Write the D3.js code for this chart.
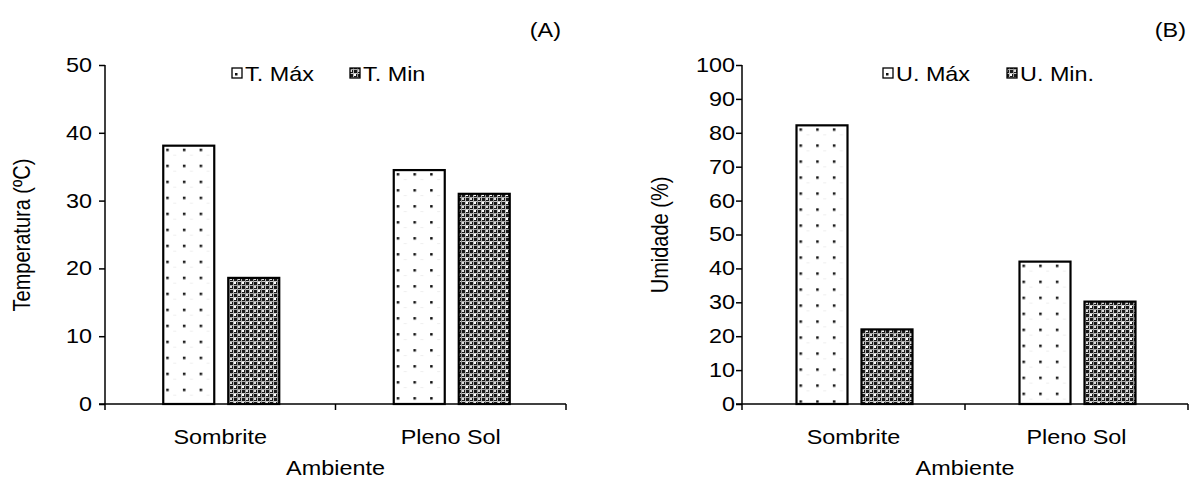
<!DOCTYPE html>
<html><head><meta charset="utf-8">
<script src="https://cdn.jsdelivr.net/npm/d3@7"></script>
<style>body{margin:0;background:#fff}svg{display:block}text{font-family:"Liberation Sans",Arial,sans-serif;fill:#000}</style>
</head><body><div id="c"></div>
<script>
const categories = ["Sombrite", "Pleno Sol"];
const tempSeries = ["T. Máx", "T. Min"];
const tempMax = [38.1, 34.5];
const tempMin = [18.6, 31.0];
const humSeries = ["U. Máx", "U. Min."];
const humMax = [82.2, 42.0];
const humMin = [22.0, 30.2];
const tempTicks = [0, 10, 20, 30, 40, 50];
const humTicks = [0, 10, 20, 30, 40, 50, 60, 70, 80, 90, 100];

const W = 1189, H = 480, SX = 1.17, FS = "20px";
const svg = d3.select("#c").append("svg").attr("width", W).attr("height", H);
const defs = svg.append("defs");

// horizontally stretched text helper
function htext(parent, x, y, str, anchor) {
  return parent.append("text").attr("transform", `translate(${x},${y}) scale(${SX},1)`)
    .attr("text-anchor", anchor || "start").style("font-size", FS).text(str);
}

// dense plaid pattern for "min" series
const pm = defs.append("pattern").attr("id", "pmin").attr("patternUnits", "userSpaceOnUse")
  .attr("width", 8).attr("height", 8);
pm.append("rect").attr("width", 8).attr("height", 8).attr("fill", "#1a1a1a");
pm.append("rect").attr("x", 0).attr("y", 1).attr("width", 8).attr("height", 1).attr("fill", "#ccc");
pm.append("rect").attr("x", 0).attr("y", 5).attr("width", 8).attr("height", 1).attr("fill", "#aaa");
pm.append("rect").attr("x", 1).attr("y", 0).attr("width", 1).attr("height", 8).attr("fill", "#bbb");
pm.append("rect").attr("x", 5).attr("y", 0).attr("width", 1).attr("height", 8).attr("fill", "#999");
pm.append("rect").attr("x", 2).attr("y", 2).attr("width", 2).attr("height", 2).attr("fill", "#fff");
pm.append("rect").attr("x", 6).attr("y", 6).attr("width", 2).attr("height", 2).attr("fill", "#ddd");

let patId = 0;
function dotPattern(x0, y0) {
  const id = "pdot" + (patId++);
  const p = defs.append("pattern").attr("id", id).attr("patternUnits", "userSpaceOnUse")
    .attr("x", x0).attr("y", y0).attr("width", 16.7).attr("height", 16);
  p.append("rect").attr("width", 16.7).attr("height", 16).attr("fill", "#fff");
  p.append("rect").attr("x", 10).attr("y", 9).attr("width", 3).attr("height", 1).attr("fill", "#eee");
  p.append("rect").attr("x", 3).attr("y", 3).attr("width", 2.5).attr("height", 2.5).attr("fill", "#111");
  return "url(#" + id + ")";
}

function panel(opt) {
  const g = svg.append("g");
  const x = d3.scaleBand().domain(categories).range([opt.x0, opt.x1]);
  const y = d3.scaleLinear().domain([0, opt.ymax]).range([404, 65]);
  const series = [opt.maxVals, opt.minVals];
  const barW = 51, gap = 14;

  // bars
  categories.forEach((c, i) => {
    const cx = x(c) + x.bandwidth() / 2 + 1;
    series.forEach((vals, s) => {
      const bx = s === 0 ? cx - gap / 2 - barW : cx + gap / 2;
      const by = y(vals[i]);
      const fill = s === 0 ? dotPattern(bx, by) : "url(#pmin)";
      g.append("rect").attr("x", bx).attr("y", by).attr("width", barW)
        .attr("height", y(0) - by).attr("fill", fill)
        .attr("stroke", "#000").attr("stroke-width", 2.2);
    });
  });

  // axes
  const ya = g.append("g").attr("transform", `translate(${opt.x0},0)`)
    .call(d3.axisLeft(y).tickValues(opt.ticks).tickSize(opt.tickLen).tickPadding(opt.pad).tickFormat(d3.format("d")));
  ya.select(".domain").attr("stroke-width", 1.5).attr("d", `M0,404V65`);
  ya.selectAll(".tick line").attr("stroke-width", 1.5);
  ya.selectAll(".tick text").style("font-size", FS).attr("font-family", null)
    .attr("x", -(opt.tickLen + opt.pad) / SX).attr("transform", `scale(${SX},1)`);

  const xa = g.append("g").attr("transform", `translate(0,404)`);
  xa.append("line").attr("x1", opt.x0 - opt.tickLen).attr("x2", opt.x1).attr("y1", 0).attr("y2", 0)
    .attr("stroke", "#000").attr("stroke-width", 1.5);
  const bounds = [opt.x0, ...categories.map(c => x(c) + x.bandwidth())];
  xa.selectAll(".bt").data(bounds).join("line").attr("x1", d => d).attr("x2", d => d)
    .attr("y1", 0).attr("y2", 6).attr("stroke", "#000").attr("stroke-width", 1.5);
  categories.forEach(c => htext(xa, x(c) + x.bandwidth() / 2, 40, c, "middle"));

  htext(g, (opt.x0 + opt.x1) / 2, 475, "Ambiente", "middle");
  g.append("text").attr("transform", `translate(${opt.ylx},235) rotate(-90) scale(1,${SX})`)
    .attr("text-anchor", "middle").attr("dy", "0.35em").style("font-size", FS).text(opt.ylabel);
  htext(g, opt.tagX, 37, opt.tag, "end");

  // legend
  const lg = g.append("g");
  opt.names.forEach((n, s) => {
    const lx = opt.legX[s];
    lg.append("rect").attr("x", lx).attr("y", 68).attr("width", 10).attr("height", 10)
      .attr("fill", s === 0 ? "#fff" : "url(#pmin)").attr("stroke", "#000").attr("stroke-width", 1.3);
    if (s === 0) lg.append("rect").attr("x", lx + 3).attr("y", 73).attr("width", 2.5).attr("height", 2.5).attr("fill", "#111");
    htext(lg, lx + 13, 81, n, "start");
  });
}

panel({ x0: 105, x1: 566, ymax: 50, ticks: tempTicks, maxVals: tempMax, minVals: tempMin,
  names: tempSeries, legX: [232, 350], ylabel: "Temperatura (ºC)", ylx: 22, tag: "(A)", tagX: 561,
  tickLen: 6, pad: 7 });
panel({ x0: 742, x1: 1188, ymax: 100, ticks: humTicks, maxVals: humMax, minVals: humMin,
  names: humSeries, legX: [883, 1007], ylabel: "Umidade (%)", ylx: 660, tag: "(B)", tagX: 1186,
  tickLen: 6, pad: 1 });
</script></body></html>
